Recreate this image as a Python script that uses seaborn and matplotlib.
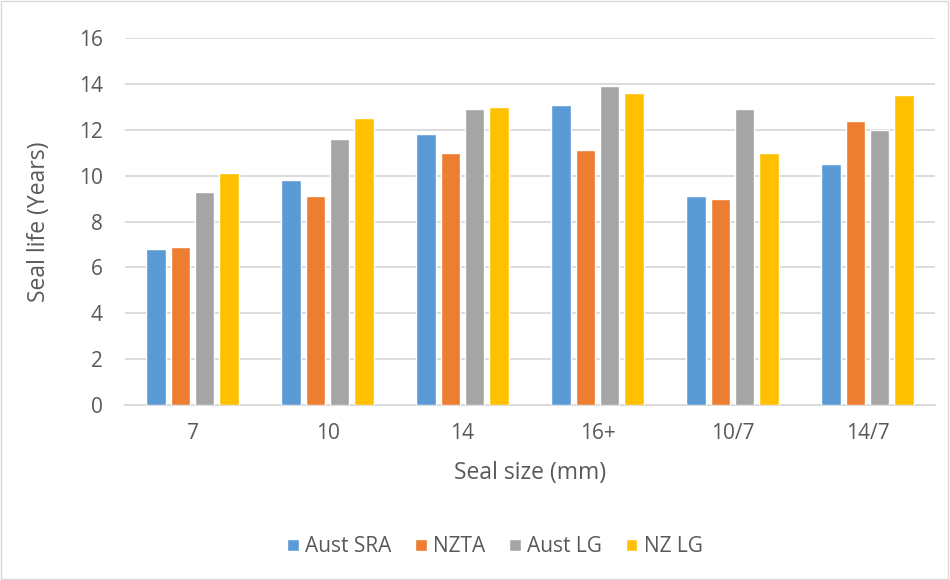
import matplotlib
matplotlib.use("Agg")
import matplotlib.pyplot as plt
import seaborn as sns
import pandas as pd
from matplotlib.patches import Rectangle

# Seal life by seal size for each guideline source
seal_sizes = ["7", "10", "14", "16+", "10/7", "14/7"]
aust_sra = [6.8, 9.8, 11.8, 13.1, 9.1, 10.5]
nzta = [6.9, 9.1, 11.0, 11.1, 9.0, 12.4]
aust_lg = [9.3, 11.6, 12.9, 13.9, 12.9, 12.0]
nz_lg = [10.1, 12.5, 13.0, 13.6, 11.0, 13.5]
series_names = ["Aust SRA", "NZTA", "Aust LG", "NZ LG"]
y_ticks = [0, 2, 4, 6, 8, 10, 12, 14, 16]

colors = ["#5B9BD5", "#ED7D31", "#A5A5A5", "#FFC000"]
text_color = "#595959"
grid_color = "#D9D9D9"

rows = []
for name, vals in zip(series_names, [aust_sra, nzta, aust_lg, nz_lg]):
    for size, v in zip(seal_sizes, vals):
        rows.append({"size": size, "source": name, "life": v})
df = pd.DataFrame(rows)

sns.set_theme(style="white")
plt.rcParams["font.family"] = ["Open Sans", "DejaVu Sans"]

fig = plt.figure(figsize=(9.5, 5.8), dpi=100)
ax = fig.add_axes([0.1316, 0.3017, 0.8526, 0.6328])

sns.barplot(data=df, x="size", y="life", hue="source", order=seal_sizes,
            hue_order=series_names, palette=colors, width=0.72, gap=0.2,
            saturation=1, ax=ax, errorbar=None, zorder=3)

ax.set_ylim(0, 16)
ax.set_yticks(y_ticks)
ax.set_yticklabels([str(t) for t in y_ticks])
ax.grid(axis="y", color=grid_color, linewidth=1.3, zorder=0)
ax.set_axisbelow(True)
for s in ["top", "right", "left"]:
    ax.spines[s].set_visible(False)
ax.spines["bottom"].set_color(grid_color)
ax.spines["bottom"].set_linewidth(1.3)
ax.tick_params(axis="both", length=0, labelsize=15, colors=text_color)
ax.tick_params(axis="x", pad=13)
ax.tick_params(axis="y", pad=16)

ax.set_xlabel("Seal size (mm)", fontsize=16.5, color=text_color, labelpad=12)
ax.set_ylabel("Seal life (Years)", fontsize=16.5, color=text_color, labelpad=20)

leg = ax.legend(loc="center", bbox_to_anchor=(0.521, 0.057),
                bbox_transform=fig.transFigure, ncol=4, frameon=False,
                fontsize=15, handlelength=0.55, handleheight=0.55,
                handletextpad=0.3, columnspacing=1.15)
for t in leg.get_texts():
    t.set_color(text_color)

fig.patches.append(Rectangle((0.001, 0.002), 0.997, 0.996, transform=fig.transFigure,
                             fill=False, edgecolor="#D9D9D9", linewidth=1))

fig.savefig("out.png", dpi=100, facecolor="white")
